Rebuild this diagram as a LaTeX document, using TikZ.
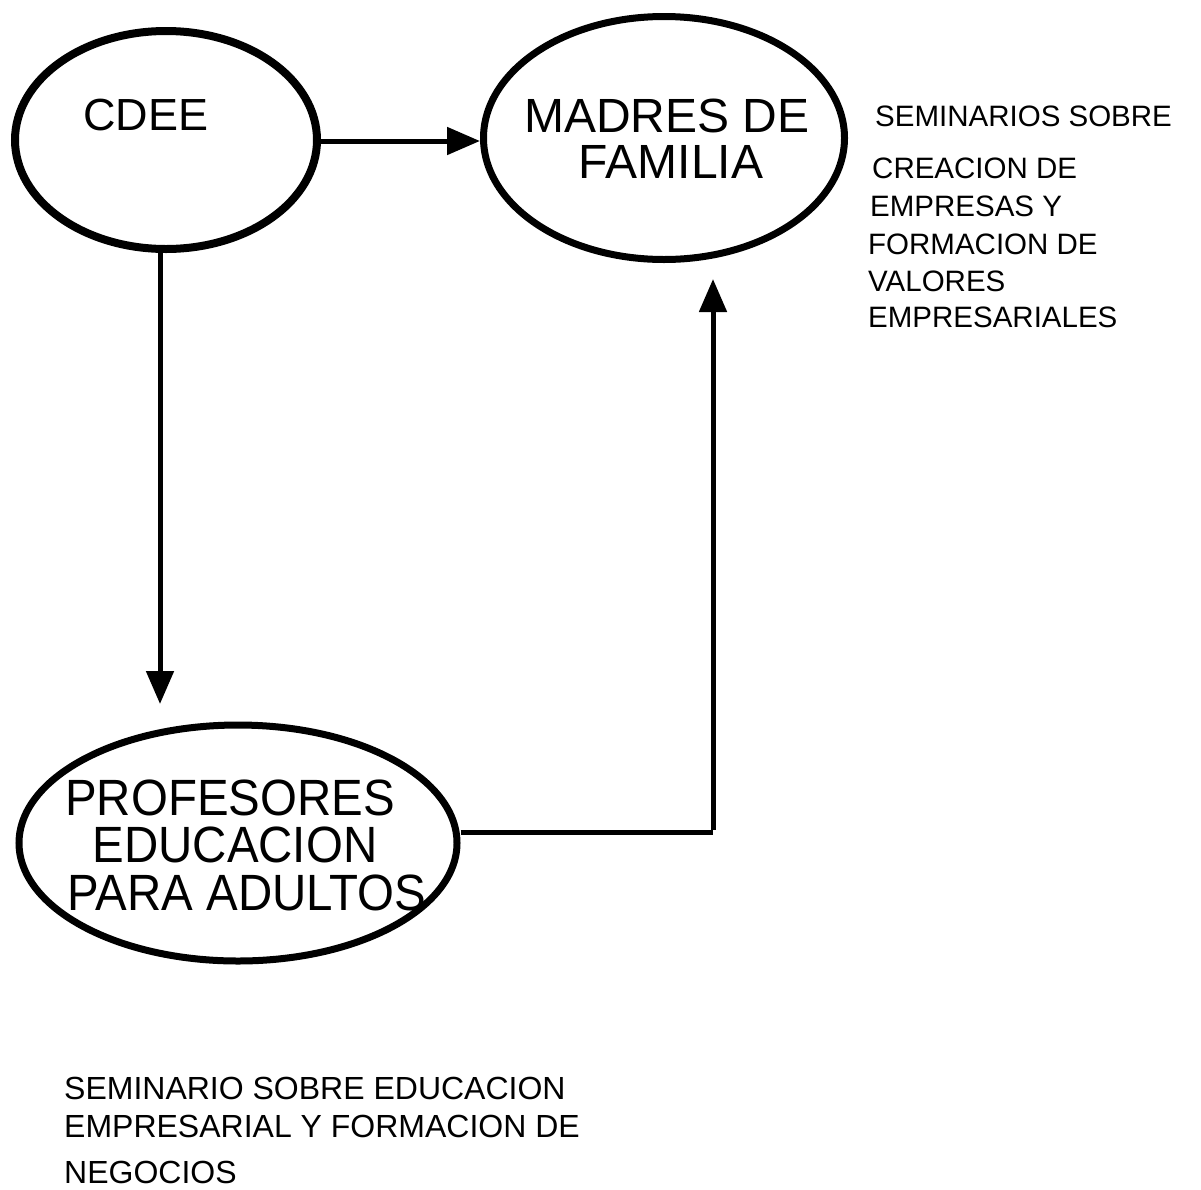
\documentclass[tikz,border=0pt]{standalone}
\usepackage{fontspec}
\setmainfont{Liberation Sans}
\newfontfamily\narrowfont[FakeStretch=0.93]{Liberation Sans}
\usetikzlibrary{shapes.geometric,arrows.meta}
\begin{document}
\begin{tikzpicture}[x=1pt,y=-1pt,
  bubble/.style={draw=black,ellipse,inner sep=0pt},
  arr/.style={line width=5pt,-{Triangle[length=33pt,width=27pt]}},
  conn/.style={line width=5pt},
  big/.style={inner sep=0pt,anchor=base,font=\fontsize{48}{52}\selectfont},
  side/.style={inner sep=0pt,anchor=base west,font=\fontsize{29.5}{32}\selectfont},
  foot/.style={inner sep=0pt,anchor=base west,font=\fontsize{32}{36}\selectfont}]
\useasboundingbox (0,0) rectangle (1201,1189);
\fill[white] (0,0) rectangle (1201,1189);
% ellipses
\node[bubble,line width=8pt,minimum width=302pt,minimum height=218pt] (cdee) at (166,140) {};
\node[bubble,line width=7pt,minimum width=361pt,minimum height=243pt] (madres) at (664,138) {};
\node[bubble,line width=7pt,minimum width=438pt,minimum height=236pt] (prof) at (238,843) {};
% labels in ellipses
\node[big,font=\fontsize{45}{50}\selectfont] (tcdee) at (146,130) {CDEE};
\node[big] (tmad1) at (667,132) {MADRES DE};
\node[big] (tmad2) at (671,178) {FAMILIA};
\node[big,font=\narrowfont\fontsize{51}{55}\selectfont] (tprof1) at (230,815) {PROFESORES};
\node[big,font=\narrowfont\fontsize{51}{55}\selectfont] (tprof2) at (235,862) {EDUCACION};
\node[big,font=\narrowfont\fontsize{51}{55}\selectfont] (tprof3) at (247,910) {PARA ADULTOS};
% side text
\node[side] (s1) at (875,126) {SEMINARIOS SOBRE};
\node[side] (s2) at (872,178) {CREACION DE};
\node[side] (s3) at (870,216) {EMPRESAS Y};
\node[side] (s4) at (868,254) {FORMACION DE};
\node[side] (s5) at (868,291) {VALORES};
\node[side] (s6) at (868,327) {EMPRESARIALES};
% bottom text
\node[foot] (b1) at (64,1099) {SEMINARIO SOBRE EDUCACION};
\node[foot] (b2) at (64,1137) {EMPRESARIAL Y FORMACION DE};
\node[foot] (b3) at (64,1183) {NEGOCIOS};
% connectors
\coordinate (tip1) at (160,704);
\coordinate (elbow) at (713,832);
\coordinate (tip2) at (713,279);
\draw[arr] (cdee.east |- 0,141) -- (madres.west |- 0,141);
\draw[arr] (cdee.south -| tip1) -- (tip1);
\draw[conn] (prof.east |- elbow) -- (elbow);
\draw[arr] ([yshift=2.5pt]elbow) -- (tip2);
\end{tikzpicture}
\end{document}
